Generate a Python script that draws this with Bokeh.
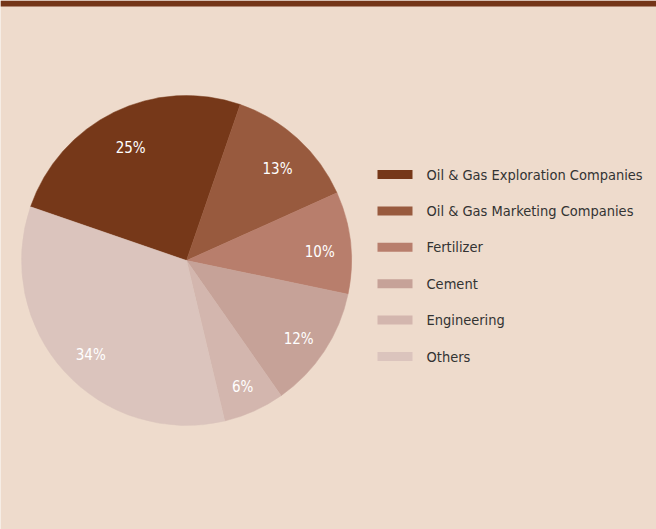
import math
from bokeh.plotting import figure
from bokeh.models import Range1d, ColumnDataSource
from bokeh.core.properties import value
from bokeh.embed import file_html
from bokeh.resources import INLINE

# ---- data ----
categories = ["Oil & Gas Exploration Companies", "Oil & Gas Marketing Companies",
              "Fertilizer", "Cement", "Engineering", "Others"]
shares = [25, 13, 10, 12, 6, 34]
colors = ["#763819", "#985a3e", "#b87e6c", "#c6a298", "#d3b6ae", "#dbc4bd"]

W, H = 656, 529
BG = "#eedbcc"
BAR = "#743518"
FONT = "DejaVu Sans Condensed"

p = figure(width=W, height=H, output_backend="svg", toolbar_location=None,
           x_range=Range1d(0, W), y_range=Range1d(0, H), min_border=0)
p.axis.visible = False
p.grid.visible = False
p.outline_line_color = None
p.background_fill_color = BG
p.border_fill_color = BG

# top bar
p.quad(left=[0], right=[W], bottom=[H - 6], top=[H], fill_color=BAR, line_color=None)

# pie
cx, cy, R = 186, H - 260, 165
start0 = 161.0
total = float(sum(shares))
starts, ends, mids = [], [], []
acc = 0.0
for v in shares:
    s = start0 - acc / total * 360.0
    e = s - v / total * 360.0
    starts.append(math.radians(s))
    ends.append(math.radians(e))
    mids.append(math.radians((s + e) / 2))
    acc += v

src = ColumnDataSource(dict(start=starts, end=ends, color=colors))
p.wedge(x=cx, y=cy, radius=R, radius_units="screen", start_angle="start", end_angle="end",
        direction="clock", fill_color="color", line_color="color", line_width=0.5, source=src)

lr = 0.8 * R
lab = ColumnDataSource(dict(
    x=[cx + lr * math.cos(a) + 2 for a in mids],
    y=[cy + lr * math.sin(a) - 6 for a in mids],
    t=[f"{v}%" for v in shares]))
p.text(x="x", y="y", text="t", source=lab, text_color="white", text_font=value(FONT),
       text_font_size="15px", text_align="center", text_baseline="middle")

# legend
y0 = H - 174
step = 36.4
ly = [y0 - i * step for i in range(len(categories))]
p.quad(left=[377] * len(ly), right=[412] * len(ly), bottom=[y - 4.5 for y in ly],
       top=[y + 4.5 for y in ly], fill_color=colors, line_color=None)
p.text(x=[426] * len(ly), y=ly, text=categories, text_color="#333333",
       text_font=value(FONT), text_font_size="14.5px", text_align="left",
       text_baseline="middle")

html = file_html(p, INLINE)
html = html.replace("<body>", '<body style="margin:0;background:%s;overflow:hidden">' % BG, 1)
open("out.html", "w").write(html)
